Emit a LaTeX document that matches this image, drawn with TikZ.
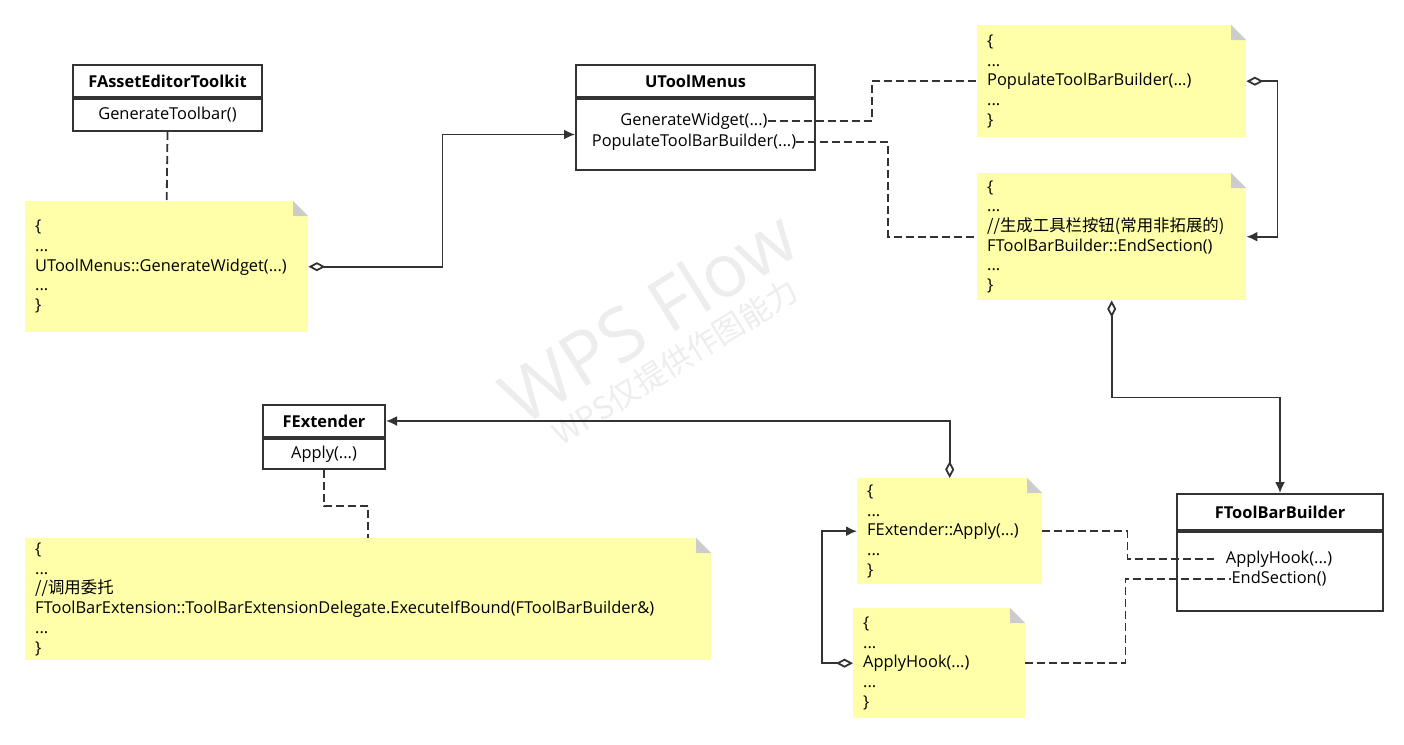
\documentclass[tikz,border=0pt]{standalone}
\usepackage{fontspec}
\setmainfont{Open Sans}
\newfontfamily\cjk{Noto Sans CJK SC}
\usetikzlibrary{arrows.meta}
\definecolor{noteyellow}{RGB}{255,255,170}
\definecolor{foldgrey}{RGB}{204,204,204}
\definecolor{linegrey}{RGB}{51,51,51}

\begin{document}
\begin{tikzpicture}[x=1pt,y=-1pt,
 every node/.style={font=\fontsize{16.4}{19.7}\selectfont},
 cls head/.style={draw=linegrey,line width=2pt,anchor=north west,inner sep=0pt,font=\fontsize{16.4}{19.7}\selectfont\bfseries},
 cls body/.style={draw=linegrey,line width=2pt,anchor=north,inner sep=0pt},
 method/.style={inner sep=0pt},
 note/.style={fill=noteyellow,anchor=north west,inner xsep=10pt,inner ysep=0pt,align=left,
  path picture={
   \fill[white] ([xshift=-15pt]path picture bounding box.north east) -- (path picture bounding box.north east)
    -- ([yshift=-15pt]path picture bounding box.north east) -- cycle;
   \fill[foldgrey] ([xshift=-15pt]path picture bounding box.north east) -- ([yshift=-15pt]path picture bounding box.north east)
    -- ([xshift=-15pt,yshift=-15pt]path picture bounding box.north east) -- cycle;}},
 assoc/.style={draw=linegrey,line width=1.8pt,{Diamond[open,length=17pt,width=9pt]}-{Latex[length=11pt,width=10pt]}},
 dep/.style={draw=linegrey,line width=1.8pt,dash pattern=on 8pt off 4pt}]

 \useasboundingbox (0,0) rectangle (1404,744);

 % watermark
 \node[rotate=32,text=black!7,font=\fontsize{74}{74}\selectfont] (wmA) at (648,316) {WPS Flow};
 \node[rotate=32,text=black!7,font=\fontsize{31}{31}\selectfont\cjk] (wmB) at (675,362) {WPS仅提供作图能力};

 % notes
 \node[note,text width=263pt,minimum height=131pt] (ntGen) at (25,201)
  {\{\\...\\UToolMenus::GenerateWidget(...)\\...\\\}};
 \node[note,text width=249pt,minimum height=112pt] (ntPop) at (977,25)
  {\{\\...\\PopulateToolBarBuilder(...)\\...\\\}};
 \node[note,text width=249pt,minimum height=127pt] (ntEnd) at (977,173)
  {\{\\...\\{\cjk //生成工具栏按钮(常用非拓展的)}\\FToolBarBuilder::EndSection()\\...\\\}};
 \node[note,text width=165pt,minimum height=106pt] (ntApply) at (857,478)
  {\{\\...\\FExtender::Apply(...)\\...\\\}};
 \node[note,text width=152pt,minimum height=110pt] (ntHook) at (853,608)
  {\{\\...\\ApplyHook(...)\\...\\\}};
 \node[note,text width=666pt,minimum height=122pt] (ntDel) at (25,538)
  {\{\\...\\{\cjk //调用委托}\\FToolBarExtension::ToolBarExtensionDelegate.ExecuteIfBound(FToolBarBuilder\&)\\...\\\}};

 % classes
 \node[cls head,minimum width=189pt,minimum height=32pt] (cAsset) at (72,64) {FAssetEditorToolkit};
 \node[cls body,minimum width=189pt,minimum height=32pt] (oAsset) at (cAsset.south) {GenerateToolbar()};
 \node[cls head,minimum width=239pt,minimum height=32pt] (cUTM) at (575,64) {UToolMenus};
 \node[cls body,minimum width=239pt,minimum height=71pt] (oUTM) at (cUTM.south) {};
 \node[method] (mGenW) at (694,121) {GenerateWidget(...)};
 \node[method] (mPopB) at (694,142) {PopulateToolBarBuilder(...)};
 \node[cls head,minimum width=122pt,minimum height=32pt] (cExt) at (262,404) {FExtender};
 \node[cls body,minimum width=122pt,minimum height=30pt] (oExt) at (cExt.south) {Apply(...)};
 \node[cls head,minimum width=206pt,minimum height=36pt] (cTBB) at (1176,493) {FToolBarBuilder};
 \node[cls body,minimum width=206pt,minimum height=79pt] (oTBB) at (cTBB.south) {};
 \node[method] (mHook) at (1279,559) {ApplyHook(...)};
 \node[method] (mEnd) at (1279,579) {EndSection()};

 % connectors
 \draw[dep] (oAsset.south) -- (ntGen.north);
 \draw[assoc] (ntGen.east) -- ++(134,0) |- (oUTM.west);
 \draw[dep] (mGenW.east) -- ++(104,0) |- (ntPop.west);
 \draw[dep] (mPopB.east) -- ++(92,0) |- (ntEnd.west);
 \draw[assoc] (ntPop.east) -- ++(31,0) |- (ntEnd.east);
 \draw[assoc] (ntEnd.south) -- ++(0,97) -| (cTBB.north);
 \draw[assoc] (ntApply.north) |- (cExt.east);
 \draw[dep] (oExt.south) -- ++(0,36) -| (ntDel.north);
 \draw[assoc] (ntHook.west) -- ++(-31,0) |- (ntApply.west);
 \draw[dep] (ntApply.east) -- ++(85,0) |- ([xshift=-12pt]mHook.west);
 \draw[dep] (ntHook.east) -- ++(100,0) |- (mEnd.west);

\end{tikzpicture}
\end{document}
